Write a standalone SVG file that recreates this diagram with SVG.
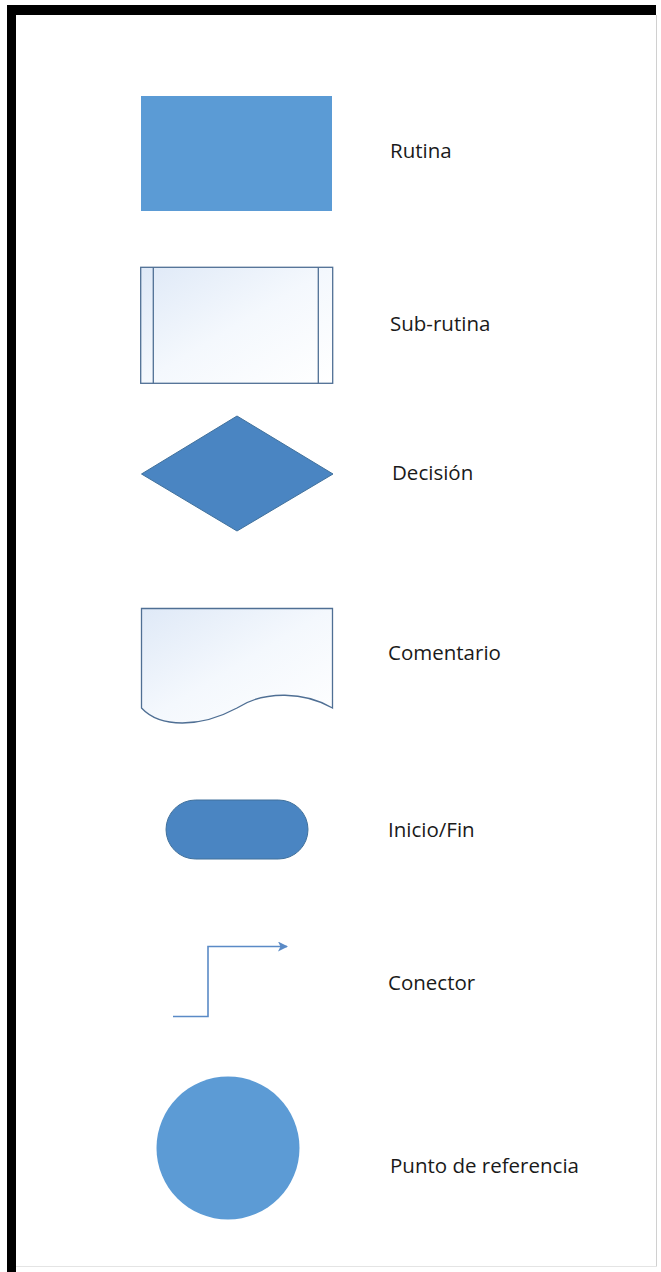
<svg xmlns="http://www.w3.org/2000/svg" width="661" height="1272" viewBox="0 0 661 1272">
<style>
.lbl{font-family:"Open Sans","Liberation Sans",sans-serif;font-size:20.5px;fill:#1a1a1a}
.solid{fill:#5b9bd5}
.dark{fill:#4a85c2;stroke:#41719c;stroke-width:1}
.light{fill:url(#lg);stroke:#4f6f94;stroke-width:1.3}
.conn{fill:none;stroke:#5a8ac6;stroke-width:1.6}
</style>
<defs>
<linearGradient id="lg" x1="0" y1="0" x2="1" y2="1">
<stop offset="0" stop-color="#dfe9f7"/>
<stop offset="0.5" stop-color="#f4f8fd"/>
<stop offset="1" stop-color="#ffffff"/>
</linearGradient>
<filter id="glow" x="-10%" y="-10%" width="120%" height="120%">
<feGaussianBlur in="SourceGraphic" stdDeviation="0.6"/>
</filter>
<marker id="arr" viewBox="0 0 10 10" refX="9" refY="5" markerWidth="10" markerHeight="10" markerUnits="userSpaceOnUse" orient="auto">
<path d="M0,0 L10,5 L0,10 L2.5,5 Z" fill="#5a8ac6"/>
</marker>
</defs>
<rect x="0" y="0" width="661" height="1272" fill="#ffffff"/>
<g id="frame">
<rect x="7" y="5" width="649" height="10" fill="#000"/>
<rect x="7" y="5" width="9" height="1267" fill="#000"/>
<line x1="656.5" y1="15" x2="656.5" y2="1266" stroke="#d0d0d0" stroke-width="1"/>
<line x1="16" y1="1266.5" x2="657" y2="1266.5" stroke="#e4e4e4" stroke-width="1"/>
</g>
<g id="rutina">
<rect class="solid" x="141" y="96" width="191" height="115"/>
<text class="lbl" x="390" y="158">Rutina</text>
</g>
<g id="sub-rutina">
<rect class="light" x="140.7" y="267.3" width="192" height="116"/>
<line x1="153.3" y1="267.3" x2="153.3" y2="383.3" stroke="#4f6f94" stroke-width="1.3"/>
<line x1="318.3" y1="267.3" x2="318.3" y2="383.3" stroke="#4f6f94" stroke-width="1.3"/>
<text class="lbl" x="390" y="331">Sub-rutina</text>
</g>
<g id="decision">
<polygon class="dark" points="237,416 333,474 237,531 141.5,474"/>
<text class="lbl" x="392" y="480">Decisión</text>
</g>
<g id="comentario">
<path class="light" d="M141.5,608.5 H332.5 V708 C305,692 265,690 237,708 C200,728 160,728 141.5,708 Z"/>
<text class="lbl" x="388" y="660">Comentario</text>
</g>
<g id="inicio-fin">
<rect class="dark" x="166" y="800" width="142" height="59" rx="29.5"/>
<text class="lbl" x="388" y="837">Inicio/Fin</text>
</g>
<g id="connectors">
<g id="conector">
<path class="conn" d="M173,1016.5 H208 V946.5 H287" marker-end="url(#arr)"/>
</g>
</g>
<g id="conector-label">
<text class="lbl" x="388" y="990">Conector</text>
</g>
<g id="punto-referencia">
<circle cx="228" cy="1148" r="71.5" fill="#5b9bd5" filter="url(#glow)"/>
<text class="lbl" x="390" y="1173">Punto de referencia</text>
</g>
</svg>
